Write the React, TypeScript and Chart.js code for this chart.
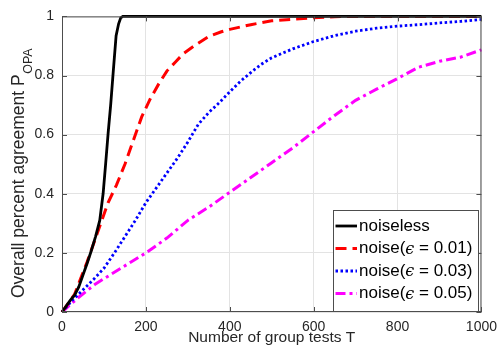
import React, { useEffect, useRef } from "react";
import { Chart, registerables } from "chart.js";

Chart.register(...registerables);

const FONT = "'Liberation Sans', Arial, Helvetica, sans-serif";
const TEXT = "#262626";

// Data
const noiselessT = [0, 10, 20, 30, 40, 50, 60, 70, 80, 90, 98, 104, 110, 116, 122, 129, 135, 140, 145, 1000];
const noiselessP = [0, 0.02, 0.04, 0.057, 0.085, 0.125, 0.165, 0.208, 0.255, 0.31, 0.4, 0.5, 0.605, 0.7, 0.81, 0.935, 0.975, 0.995, 1, 1];

const noise01T = [0, 30, 60, 90, 110, 130, 150, 170, 190, 210, 230, 250, 270, 290, 320, 350, 380, 400, 450, 500, 550, 600, 650, 700, 1000];
const noise01P = [0, 0.06, 0.17, 0.29, 0.37, 0.43, 0.5, 0.58, 0.66, 0.72, 0.77, 0.815, 0.845, 0.875, 0.905, 0.932, 0.948, 0.956, 0.972, 0.985, 0.99, 0.995, 0.999, 1, 1];

const noise03T = [0, 25, 50, 75, 100, 125, 150, 175, 200, 225, 250, 275, 300, 325, 350, 375, 400, 425, 450, 475, 500, 550, 600, 650, 700, 750, 800, 850, 900, 950, 1000];
const noise03P = [0, 0.04, 0.075, 0.11, 0.148, 0.2, 0.255, 0.31, 0.37, 0.42, 0.47, 0.52, 0.575, 0.635, 0.675, 0.708, 0.745, 0.78, 0.81, 0.838, 0.86, 0.89, 0.915, 0.935, 0.95, 0.96, 0.967, 0.972, 0.978, 0.983, 0.99];

const noise05T = [0, 40, 80, 120, 160, 200, 250, 300, 350, 400, 450, 500, 550, 600, 650, 700, 750, 800, 850, 900, 950, 1000];
const noise05P = [0, 0.05, 0.095, 0.13, 0.165, 0.2, 0.25, 0.31, 0.355, 0.405, 0.455, 0.505, 0.555, 0.61, 0.665, 0.716, 0.754, 0.79, 0.828, 0.848, 0.862, 0.887];

const seriesLabels = ["noiseless", "noise(ϵ = 0.01)", "noise(ϵ = 0.03)", "noise(ϵ = 0.05)"];
const xTitle = "Number of group tests T";
const yTitleMain = "Overall percent agreement P";
const yTitleSub = "OPA";

const toPoints = (xs: number[], ys: number[]) => xs.map((x, i) => ({ x, y: ys[i] }));

const framePlugin = {
  id: "frame",
  afterDatasetsDraw(chart: any) {
    const { ctx, chartArea: a, scales } = chart;
    ctx.save();
    ctx.strokeStyle = "#4d4d4d";
    ctx.lineWidth = 1;
    ctx.strokeRect(a.left + 0.5, a.top + 0.5, a.right - a.left - 1, a.bottom - a.top - 1);
    const tl = 5;
    ctx.beginPath();
    scales.x.ticks.forEach((t: any) => {
      const px = Math.round(scales.x.getPixelForValue(t.value)) + 0.5;
      ctx.moveTo(px, a.bottom);
      ctx.lineTo(px, a.bottom - tl);
      ctx.moveTo(px, a.top);
      ctx.lineTo(px, a.top + tl);
    });
    scales.y.ticks.forEach((t: any) => {
      const py = Math.round(scales.y.getPixelForValue(t.value)) + 0.5;
      ctx.moveTo(a.left, py);
      ctx.lineTo(a.left + tl, py);
      ctx.moveTo(a.right, py);
      ctx.lineTo(a.right - tl, py);
    });
    ctx.stroke();
    ctx.restore();
  },
  afterDraw(chart: any) {
    const { ctx, chartArea: a } = chart;
    ctx.save();
    ctx.fillStyle = TEXT;
    // x title
    ctx.font = `15.5px ${FONT}`;
    ctx.textAlign = "center";
    ctx.textBaseline = "alphabetic";
    ctx.fillText(xTitle, (a.left + a.right) / 2, 342);
    // y title with subscript
    ctx.save();
    ctx.translate(23.5, 298);
    ctx.rotate(-Math.PI / 2);
    ctx.textAlign = "left";
    ctx.font = `17.5px ${FONT}`;
    ctx.fillText(yTitleMain, 0, 0);
    const w = ctx.measureText(yTitleMain).width;
    ctx.font = `12.5px ${FONT}`;
    ctx.fillText(yTitleSub, w + 0.5, 8);
    ctx.restore();

    // legend
    const bx = 333.5, by = 210.5, bw = 145, bh = 101;
    ctx.fillStyle = "#ffffff";
    ctx.fillRect(bx, by, bw, bh);
    ctx.strokeStyle = "#4d4d4d";
    ctx.lineWidth = 1;
    ctx.strokeRect(bx, by, bw, bh);
    const rows = [226, 248.5, 271, 293.5];
    chart.data.datasets.forEach((ds: any, i: number) => {
      const y = rows[i];
      ctx.save();
      ctx.strokeStyle = ds.borderColor;
      ctx.lineWidth = ds.borderWidth;
      ctx.setLineDash(ds.borderDash || []);
      ctx.beginPath();
      ctx.moveTo(335.5, y);
      ctx.lineTo(357, y);
      ctx.stroke();
      ctx.restore();
      ctx.fillStyle = "#000";
      ctx.textBaseline = "middle";
      ctx.textAlign = "left";
      const parts = String(ds.label).split("ϵ");
      let x = 359;
      parts.forEach((p: string, k: number) => {
        if (k > 0) {
          ctx.font = `italic 16px 'DejaVu Serif', serif`;
          ctx.fillText("ϵ", x, y + 1);
          x += ctx.measureText("ϵ").width;
        }
        ctx.font = `17px ${FONT}`;
        ctx.fillText(p, x, y);
        x += ctx.measureText(p).width;
      });
    });
    ctx.restore();
  },
};

export default function App() {
  const ref = useRef<HTMLCanvasElement>(null);
  useEffect(() => {
    const canvas = ref.current!;
    const chart = new Chart(canvas, {
      type: "line",
      data: {
        datasets: [
          {
            label: seriesLabels[0],
            data: toPoints(noiselessT, noiselessP),
            borderColor: "#000000",
            borderWidth: 2.8,
            pointRadius: 0,
            clip: 4,
          },
          {
            label: seriesLabels[1],
            data: toPoints(noise01T, noise01P),
            borderColor: "#ff0000",
            borderWidth: 3,
            borderDash: [11, 6],
            pointRadius: 0,
            clip: 4,
          },
          {
            label: seriesLabels[2],
            data: toPoints(noise03T, noise03P),
            borderColor: "#0000ff",
            borderWidth: 2.8,
            borderDash: [2.5, 2.5],
            pointRadius: 0,
            clip: 4,
          },
          {
            label: seriesLabels[3],
            data: toPoints(noise05T, noise05P),
            borderColor: "#ff00ff",
            borderWidth: 3,
            borderDash: [10, 4, 3, 4],
            pointRadius: 0,
            clip: 4,
          },
        ] as any,
      },
      options: {
        responsive: false,
        animation: false,
        devicePixelRatio: 1,
        layout: { padding: { top: 14, right: 19, left: 0, bottom: 0 } },
        plugins: { legend: { display: false }, tooltip: { enabled: false } },
        elements: { line: { tension: 0 } },
        scales: {
          x: {
            type: "linear",
            min: 0,
            max: 1000,
            border: { display: false },
            grid: { color: "#e3e3e3", drawTicks: false },
            ticks: {
              stepSize: 200,
              color: TEXT,
              font: { family: FONT, size: 14 },
              padding: 7,
              maxRotation: 0,
              callback: (v: any) => String(Math.round(Number(v))),
            },
            afterFit: (s: any) => {
              s.height = 42;
            },
          },
          y: {
            type: "linear",
            min: 0,
            max: 1,
            border: { display: false },
            grid: { color: "#e3e3e3", drawTicks: false },
            ticks: {
              stepSize: 0.2,
              color: TEXT,
              font: { family: FONT, size: 14 },
              padding: 8,
              callback: (v: any) => String(Number(Number(v).toFixed(1))),
            },
            afterFit: (s: any) => {
              s.width = 62;
            },
          },
        },
      },
      plugins: [framePlugin],
    } as any);
    return () => chart.destroy();
  }, []);
  return (
    <div style={{ position: "fixed", left: 0, top: 0, width: 504, height: 354, background: "#fff" }}>
      <canvas ref={ref} width={504} height={354} style={{ display: "block", width: 504, height: 354 }} />
    </div>
  );
}
